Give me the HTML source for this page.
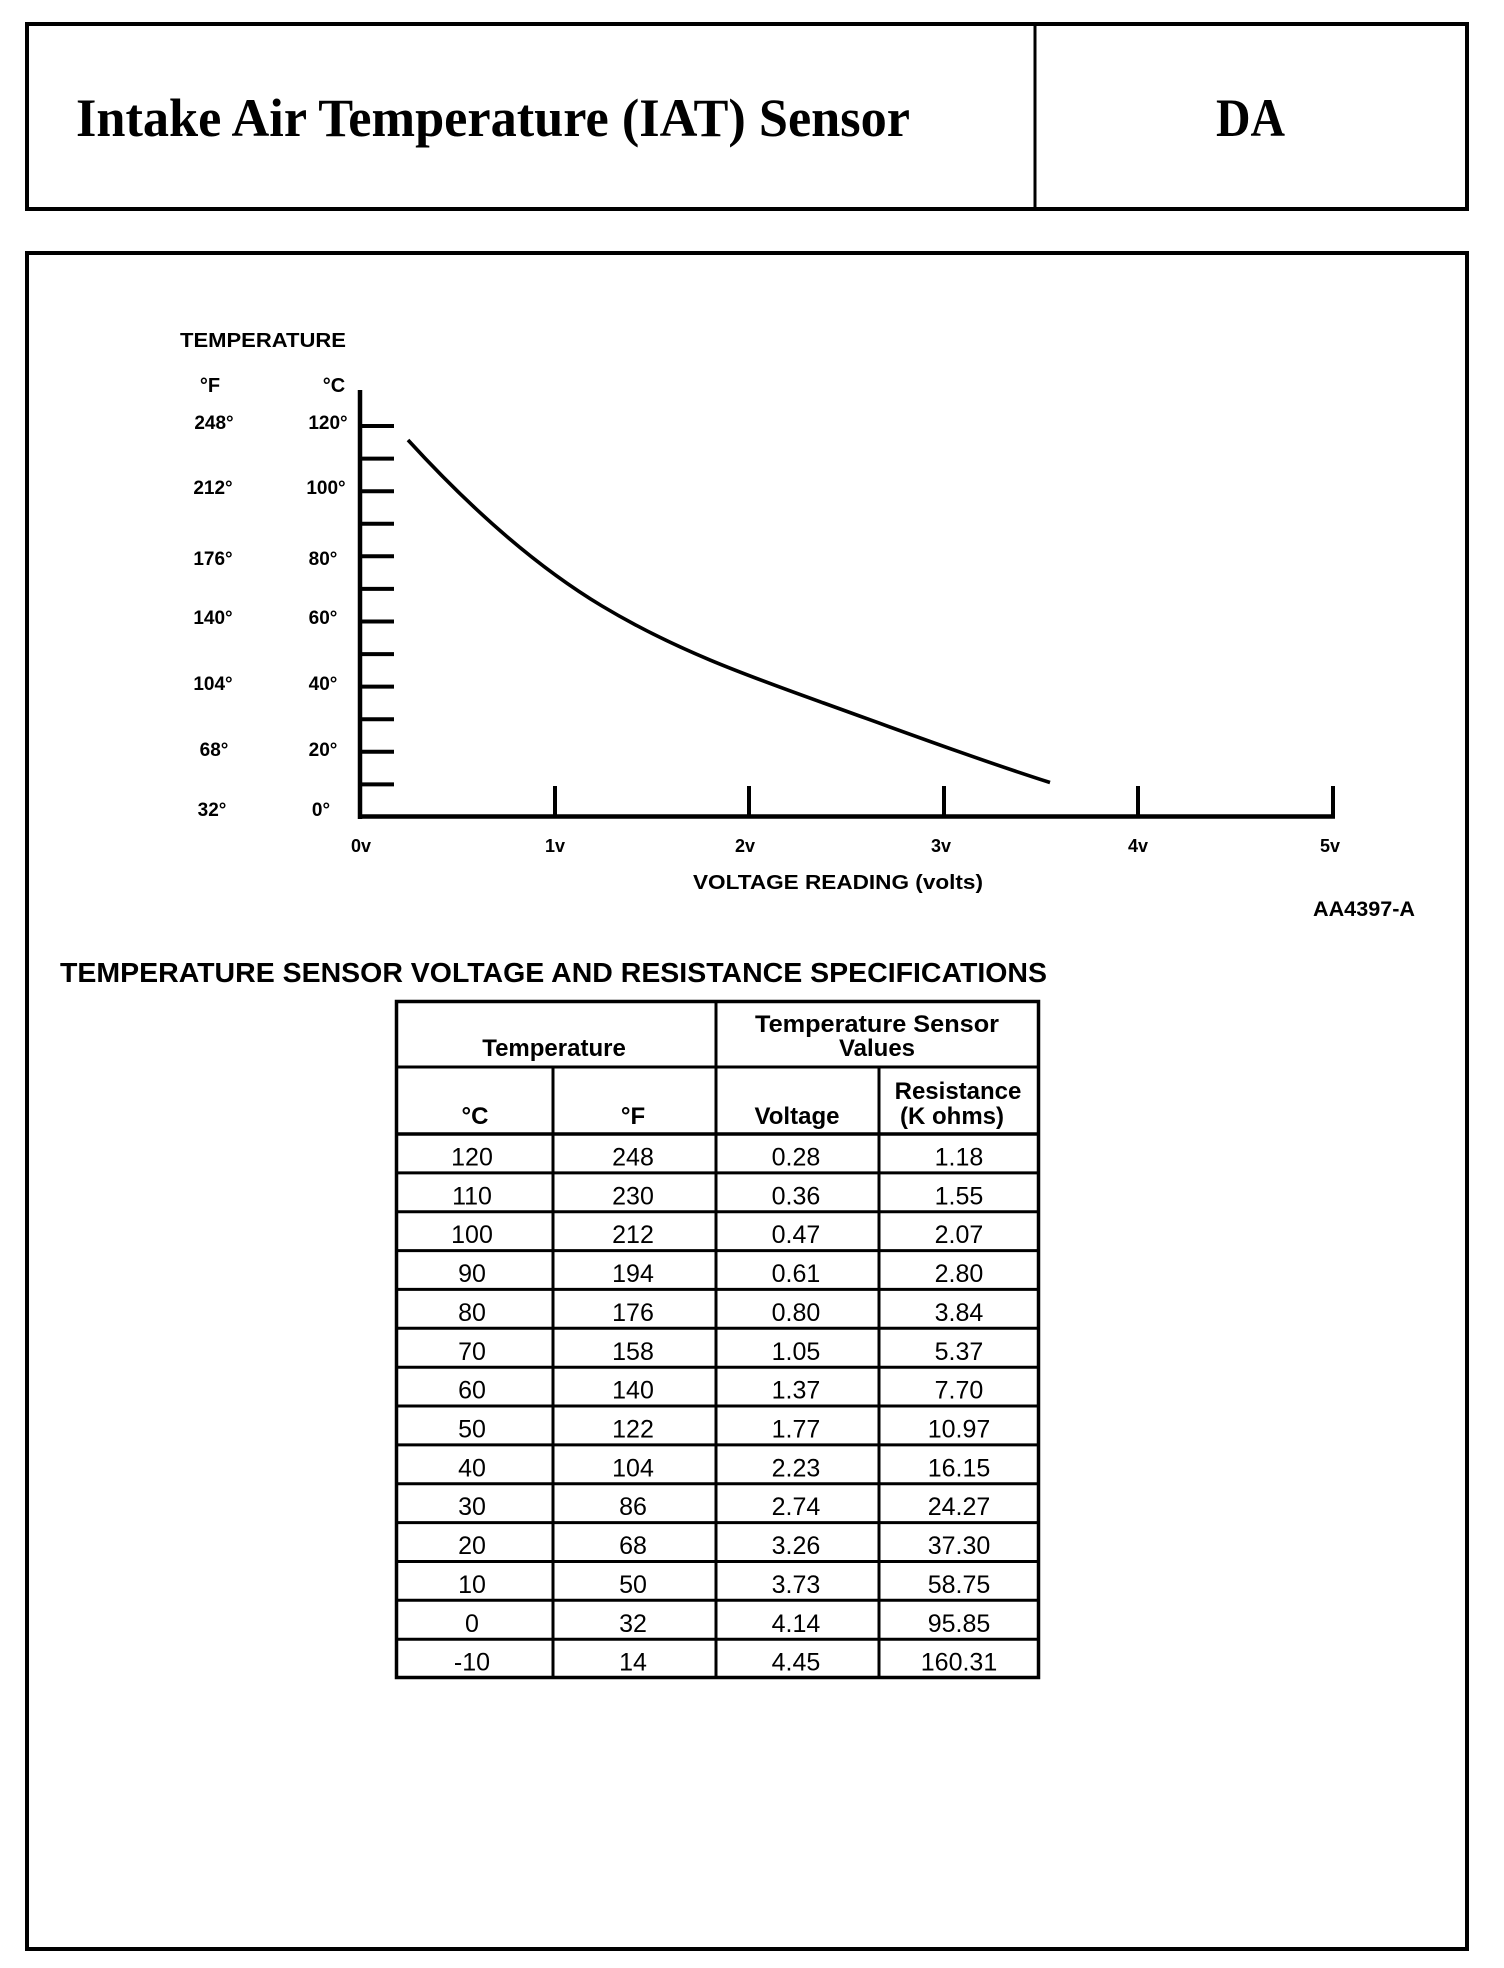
<!DOCTYPE html>
<html>
<head>
<meta charset="utf-8">
<style>
html,body{margin:0;padding:0;background:#fff;}
body{width:1504px;height:1968px;overflow:hidden;}
svg{display:block;}
.ser{font-family:"Liberation Serif",serif;font-weight:bold;}
.sans{font-family:"Liberation Sans",sans-serif;}
.b{font-weight:bold;}
</style>
</head>
<body>
<svg width="1504" height="1968" viewBox="0 0 1504 1968" xmlns="http://www.w3.org/2000/svg">
<rect x="0" y="0" width="1504" height="1968" fill="#fff"/>

<!-- Header box -->
<rect x="27" y="24" width="1440" height="185" fill="none" stroke="#000" stroke-width="4"/>
<line x1="1035" y1="24" x2="1035" y2="209" stroke="#000" stroke-width="3"/>
<text class="ser" x="76" y="136" font-size="54" textLength="834" lengthAdjust="spacingAndGlyphs">Intake Air Temperature (IAT) Sensor</text>
<text class="ser" x="1216" y="136" font-size="54" textLength="69" lengthAdjust="spacingAndGlyphs">DA</text>

<!-- Main box -->
<rect x="27" y="253" width="1440" height="1696" fill="none" stroke="#000" stroke-width="4"/>

<!-- Chart labels -->
<text class="sans b" x="180" y="347" font-size="20" textLength="166" lengthAdjust="spacingAndGlyphs">TEMPERATURE</text>
<text class="sans b" x="210" y="392" font-size="20" text-anchor="middle">°F</text>
<text class="sans b" x="334" y="392" font-size="20" text-anchor="middle">°C</text>

<g class="sans b" font-size="19" text-anchor="middle">
<text x="214" y="429">248°</text><text x="328" y="429">120°</text>
<text x="213" y="494">212°</text><text x="326" y="494">100°</text>
<text x="213" y="565">176°</text><text x="323" y="565">80°</text>
<text x="213" y="624">140°</text><text x="323" y="624">60°</text>
<text x="213" y="690">104°</text><text x="323" y="690">40°</text>
<text x="214" y="756">68°</text><text x="323" y="756">20°</text>
<text x="212" y="816">32°</text><text x="321" y="816">0°</text>
</g>

<!-- Axes -->
<line x1="360" y1="390" x2="360" y2="819" stroke="#000" stroke-width="4.5"/>
<line x1="358" y1="816.5" x2="1335" y2="816.5" stroke="#000" stroke-width="4.5"/>
<g stroke="#000" stroke-width="4">
<line x1="360" y1="426" x2="394" y2="426"/>
<line x1="360" y1="458.6" x2="394" y2="458.6"/>
<line x1="360" y1="491.2" x2="394" y2="491.2"/>
<line x1="360" y1="523.7" x2="394" y2="523.7"/>
<line x1="360" y1="556.3" x2="394" y2="556.3"/>
<line x1="360" y1="588.9" x2="394" y2="588.9"/>
<line x1="360" y1="621.5" x2="394" y2="621.5"/>
<line x1="360" y1="654.1" x2="394" y2="654.1"/>
<line x1="360" y1="686.6" x2="394" y2="686.6"/>
<line x1="360" y1="719.2" x2="394" y2="719.2"/>
<line x1="360" y1="751.8" x2="394" y2="751.8"/>
<line x1="360" y1="784.4" x2="394" y2="784.4"/>
<line x1="555" y1="786" x2="555" y2="817"/>
<line x1="749" y1="786" x2="749" y2="817"/>
<line x1="944" y1="786" x2="944" y2="817"/>
<line x1="1138" y1="786" x2="1138" y2="817"/>
<line x1="1333" y1="786" x2="1333" y2="817"/>
</g>

<!-- Curve -->
<path fill="none" stroke="#000" stroke-width="3.6" stroke-linecap="butt"
d="M408,440 C473,511 537,567 602,606 C676,650.4 749.6,676.4 823.6,703 C899.1,730.2 974.5,758.3 1050,782.5"/>

<!-- x labels -->
<g class="sans b" font-size="18" text-anchor="middle">
<text x="361" y="852">0v</text>
<text x="555" y="852">1v</text>
<text x="745" y="852">2v</text>
<text x="941" y="852">3v</text>
<text x="1138" y="852">4v</text>
<text x="1330" y="852">5v</text>
</g>
<text class="sans b" x="693" y="889" font-size="20" textLength="290" lengthAdjust="spacingAndGlyphs">VOLTAGE READING (volts)</text>
<text class="sans b" x="1313" y="916" font-size="21" textLength="102" lengthAdjust="spacingAndGlyphs">AA4397-A</text>

<!-- Table title -->
<text class="sans b" x="60" y="982" font-size="28" textLength="987" lengthAdjust="spacingAndGlyphs">TEMPERATURE SENSOR VOLTAGE AND RESISTANCE SPECIFICATIONS</text>

<!-- Table grid -->
<g stroke="#000" fill="none">
<rect x="396.5" y="1001.5" width="642" height="676" stroke-width="3.5"/>
<line x1="396" y1="1067" x2="1040" y2="1067" stroke-width="3"/>
<line x1="396" y1="1134" x2="1040" y2="1134" stroke-width="3.5"/>
<line x1="716" y1="1001" x2="716" y2="1678" stroke-width="3"/>
<line x1="553" y1="1067" x2="553" y2="1678" stroke-width="3"/>
<line x1="879" y1="1067" x2="879" y2="1678" stroke-width="3"/>
<line x1="396" y1="1172.9" x2="1040" y2="1172.9" stroke-width="3"/>
<line x1="396" y1="1211.7" x2="1040" y2="1211.7" stroke-width="3"/>
<line x1="396" y1="1250.6" x2="1040" y2="1250.6" stroke-width="3"/>
<line x1="396" y1="1289.4" x2="1040" y2="1289.4" stroke-width="3"/>
<line x1="396" y1="1328.3" x2="1040" y2="1328.3" stroke-width="3"/>
<line x1="396" y1="1367.2" x2="1040" y2="1367.2" stroke-width="3"/>
<line x1="396" y1="1406" x2="1040" y2="1406" stroke-width="3"/>
<line x1="396" y1="1444.9" x2="1040" y2="1444.9" stroke-width="3"/>
<line x1="396" y1="1483.7" x2="1040" y2="1483.7" stroke-width="3"/>
<line x1="396" y1="1522.6" x2="1040" y2="1522.6" stroke-width="3"/>
<line x1="396" y1="1561.5" x2="1040" y2="1561.5" stroke-width="3"/>
<line x1="396" y1="1600.3" x2="1040" y2="1600.3" stroke-width="3"/>
<line x1="396" y1="1639.2" x2="1040" y2="1639.2" stroke-width="3"/>
</g>

<!-- Table headers -->
<g class="sans b" font-size="24" text-anchor="middle">
<text x="554" y="1056">Temperature</text>
<text x="877" y="1032" textLength="244" lengthAdjust="spacingAndGlyphs">Temperature Sensor</text>
<text x="877" y="1056">Values</text>
<text x="475" y="1124">°C</text>
<text x="633" y="1124">°F</text>
<text x="797" y="1124">Voltage</text>
<text x="958" y="1099">Resistance</text>
<text x="952" y="1124">(K ohms)</text>
</g>

<!-- Table data -->
<g class="sans" font-size="25" text-anchor="middle">
<text x="472" y="1165.5">120</text><text x="633" y="1165.5">248</text><text x="796" y="1165.5">0.28</text><text x="959" y="1165.5">1.18</text>
<text x="472" y="1204.4">110</text><text x="633" y="1204.4">230</text><text x="796" y="1204.4">0.36</text><text x="959" y="1204.4">1.55</text>
<text x="472" y="1243.2">100</text><text x="633" y="1243.2">212</text><text x="796" y="1243.2">0.47</text><text x="959" y="1243.2">2.07</text>
<text x="472" y="1282.1">90</text><text x="633" y="1282.1">194</text><text x="796" y="1282.1">0.61</text><text x="959" y="1282.1">2.80</text>
<text x="472" y="1320.9">80</text><text x="633" y="1320.9">176</text><text x="796" y="1320.9">0.80</text><text x="959" y="1320.9">3.84</text>
<text x="472" y="1359.8">70</text><text x="633" y="1359.8">158</text><text x="796" y="1359.8">1.05</text><text x="959" y="1359.8">5.37</text>
<text x="472" y="1398.7">60</text><text x="633" y="1398.7">140</text><text x="796" y="1398.7">1.37</text><text x="959" y="1398.7">7.70</text>
<text x="472" y="1437.5">50</text><text x="633" y="1437.5">122</text><text x="796" y="1437.5">1.77</text><text x="959" y="1437.5">10.97</text>
<text x="472" y="1476.4">40</text><text x="633" y="1476.4">104</text><text x="796" y="1476.4">2.23</text><text x="959" y="1476.4">16.15</text>
<text x="472" y="1515.2">30</text><text x="633" y="1515.2">86</text><text x="796" y="1515.2">2.74</text><text x="959" y="1515.2">24.27</text>
<text x="472" y="1554.1">20</text><text x="633" y="1554.1">68</text><text x="796" y="1554.1">3.26</text><text x="959" y="1554.1">37.30</text>
<text x="472" y="1593">10</text><text x="633" y="1593">50</text><text x="796" y="1593">3.73</text><text x="959" y="1593">58.75</text>
<text x="472" y="1631.8">0</text><text x="633" y="1631.8">32</text><text x="796" y="1631.8">4.14</text><text x="959" y="1631.8">95.85</text>
<text x="472" y="1670.7">-10</text><text x="633" y="1670.7">14</text><text x="796" y="1670.7">4.45</text><text x="959" y="1670.7">160.31</text>
</g>
</svg>
</body>
</html>
